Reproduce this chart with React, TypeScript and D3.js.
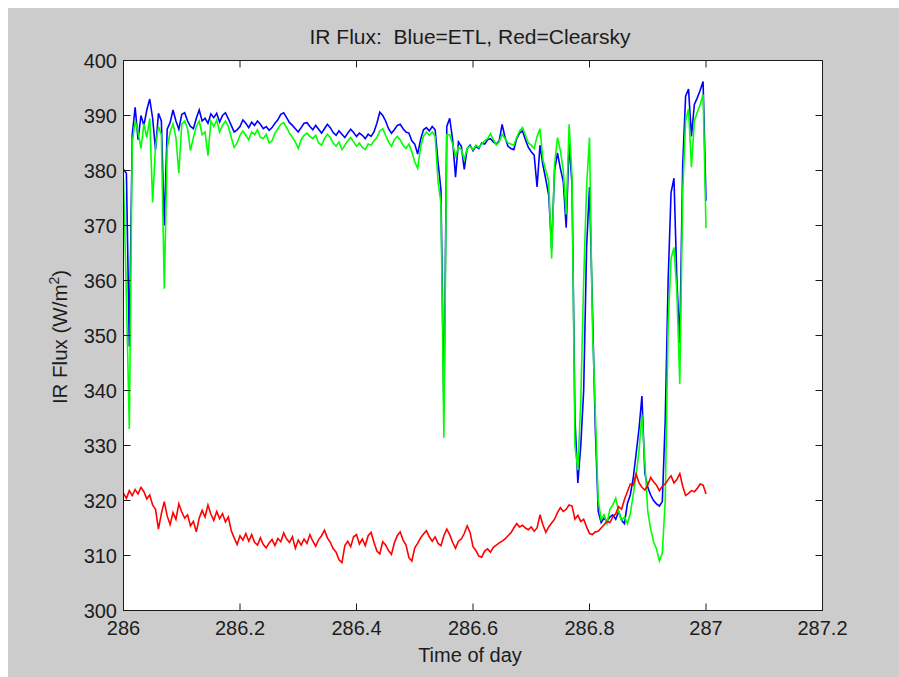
import React, { useEffect } from 'react';
import * as d3 from 'd3';

// Sampling of the series: start time and step (day)
const T0 = 286;
const DT = 0.005;

const xTicks = [286, 286.2, 286.4, 286.6, 286.8, 287, 287.2];
const xTickLabels = ['286', '286.2', '286.4', '286.6', '286.8', '287', '287.2'];
const yTicks = [300, 310, 320, 330, 340, 350, 360, 370, 380, 390, 400];
const yTickLabels = ['300', '310', '320', '330', '340', '350', '360', '370', '380', '390', '400'];

// Blue = ETL
const etlFlux = [
  380.2, 379.5, 348.0, 386.5, 391.5, 385.6, 390.0, 388.2, 391.0, 393.0,
  389.5, 383.8, 390.4, 389.0, 370.0, 387.5, 388.7, 391.0, 389.0, 387.5,
  390.2, 390.5, 389.0, 388.0, 387.6, 389.5, 391.0, 389.0, 389.5, 388.6,
  390.3, 389.6, 390.4, 388.8, 390.0, 390.5, 389.4, 388.2, 387.0, 387.4,
  388.0, 389.2, 388.6, 387.8, 388.8, 388.2, 389.0, 388.4, 387.6, 388.0,
  387.3, 387.8, 388.6, 389.2, 390.2, 390.5, 389.6, 388.7, 388.2, 387.6,
  387.0, 387.8, 388.6, 388.7, 388.0, 387.4, 388.2, 387.5, 386.8, 387.6,
  388.4, 387.8, 386.9, 386.4, 387.2, 386.6, 386.0, 386.8, 387.5, 386.9,
  386.2, 386.8, 386.4, 385.8, 386.6, 386.2, 387.0, 388.6, 390.6, 390.0,
  389.0, 387.6, 386.8, 387.4, 388.2, 388.4, 387.6, 387.0, 386.8, 385.4,
  384.8, 383.0, 385.6, 387.4, 387.8, 387.2, 388.0, 387.4, 381.5, 376.5,
  336.4, 388.0, 389.5, 385.6, 378.8, 385.2, 384.4, 380.2, 384.0, 384.6,
  383.6, 384.4, 384.0, 385.0, 384.8, 385.6, 385.8, 385.2, 384.8, 385.4,
  388.4, 386.0, 384.4, 384.0, 383.8, 385.8, 386.8, 387.2, 385.6, 384.2,
  383.4, 382.8, 377.0, 384.6, 381.0, 378.4, 375.5, 365.8, 380.0, 383.2,
  380.4, 378.0, 369.6, 385.0, 377.5, 335.0, 323.2, 330.0, 340.0, 366.0,
  377.0, 355.0, 333.0, 318.0, 316.0, 316.8, 316.2, 317.0, 317.4, 316.6,
  318.0, 316.4, 315.8, 319.4, 321.0, 324.0, 328.5, 333.0, 339.0, 325.0,
  322.4, 321.0, 320.0, 319.4, 319.0, 319.8, 334.5, 360.0, 376.0, 378.6,
  360.0, 348.6, 381.0, 393.5, 394.8, 386.2, 392.0, 393.2, 394.6, 396.2,
  374.5,
];

// Green
const greenFlux = [
  378.5, 357.0, 333.0, 385.0, 389.0, 387.0, 384.0, 388.5, 386.0, 389.5,
  374.2, 384.5, 388.0, 386.5, 358.5, 384.0, 387.0, 388.5, 386.0, 379.5,
  388.4, 389.0, 387.6, 383.6, 386.0, 388.0, 389.0, 386.5, 387.0, 382.7,
  389.0, 388.0, 389.2, 387.0, 388.2, 389.0, 388.0, 386.0, 384.2, 385.0,
  386.4, 387.2, 386.4, 385.6, 387.0, 386.5, 387.4, 386.0, 385.8, 386.6,
  385.0, 385.4, 386.8, 387.6, 388.4, 388.7, 387.8, 386.8, 386.0, 385.2,
  384.0, 385.6, 386.4, 386.8, 386.2, 385.8, 386.4, 385.0, 384.6, 385.8,
  386.6, 386.0, 385.0, 384.4, 385.2, 383.8, 384.6, 385.4, 386.0, 385.2,
  384.4, 385.0, 384.2, 383.8, 384.8, 384.6, 385.4, 386.0, 387.2, 387.6,
  386.4, 385.2, 384.4, 385.6, 386.2, 385.6, 384.6, 384.0, 384.8, 383.4,
  381.6, 380.4, 384.2, 386.2, 387.0, 386.4, 387.0, 386.2, 378.0, 374.0,
  331.4, 386.5, 386.5, 384.8, 382.6, 384.2, 383.8, 382.0, 384.0, 384.4,
  383.8, 384.6, 384.2, 384.8, 385.4, 385.8, 386.7, 385.6, 384.6, 385.2,
  386.6, 385.8, 385.0, 384.8, 384.6, 386.0, 387.2, 387.8, 386.4, 385.0,
  384.6, 384.0, 386.2, 387.6, 382.0, 380.0, 378.0, 364.0, 381.0, 386.0,
  383.6, 380.0, 372.0, 388.4, 379.0, 330.0, 325.5, 338.0, 360.0, 377.0,
  386.0, 352.0, 336.0, 320.0, 316.5, 317.4, 315.8, 318.4, 319.2, 320.4,
  318.0, 316.4, 317.0, 315.8, 317.6, 321.0, 324.6, 329.0, 335.6, 327.0,
  318.0, 314.8, 312.5, 311.2, 309.0, 310.4, 320.0, 352.0, 364.0, 366.0,
  358.0, 341.2, 376.0, 389.0, 391.2, 380.6, 389.0, 390.6, 392.0, 393.8,
  369.5,
];

// Red = Clearsky
const clearskyFlux = [
  321.3, 320.4, 321.8, 320.9, 322.0, 321.2, 322.4, 321.6, 320.3, 321.0,
  319.2, 318.4, 314.8, 317.6, 319.8, 317.2, 315.6, 317.8, 316.6, 319.4,
  317.9, 316.8, 317.4, 315.4, 316.2, 314.3, 316.8, 318.2, 317.0, 319.2,
  317.5, 316.4, 318.0, 316.7, 317.6, 316.1, 317.0, 314.5, 313.2, 312.0,
  313.6, 312.8, 314.0, 312.6, 313.8, 312.4, 311.9, 313.2, 312.0, 311.4,
  312.3, 312.9, 311.8, 313.1, 312.5, 314.1, 313.0, 312.4, 313.4, 311.3,
  312.8, 311.9, 313.0, 312.2, 313.8, 312.6, 311.7, 312.9, 313.6, 314.6,
  313.2, 312.4, 311.2, 310.6, 309.2, 308.7, 311.8, 312.6, 311.6, 313.4,
  313.8, 312.1, 313.0, 311.8, 313.6, 314.2, 312.4, 310.8, 310.3, 312.5,
  311.9, 310.9, 310.2, 312.3, 313.6, 314.3, 312.8, 311.9, 309.6, 309.0,
  311.4, 312.2, 313.2, 313.9, 314.5, 313.4, 312.6, 313.4, 312.2, 311.8,
  313.6, 314.8, 313.8, 312.4, 311.3, 312.6, 313.0, 314.0, 315.4, 314.2,
  311.6, 310.9, 309.9, 309.7, 310.8, 311.2, 310.6, 311.5, 311.9, 312.3,
  312.6, 313.0, 313.6, 314.1, 315.0, 315.8, 315.2, 315.5, 315.0, 314.7,
  315.2, 314.4, 315.0, 317.4, 315.6, 314.2, 315.2, 315.9, 316.6, 317.8,
  318.7, 318.0, 318.4, 319.2, 319.0, 316.6, 317.3, 316.2, 316.6, 315.2,
  314.0, 313.8, 314.3, 314.4, 315.0, 315.6, 316.2, 316.0, 317.0, 317.6,
  318.9, 318.4, 320.2, 321.6, 323.0, 322.8, 324.8, 323.2, 322.4, 321.9,
  322.8, 324.2, 323.4, 322.8, 321.8, 322.6, 323.0, 323.8, 324.5, 323.2,
  323.8, 324.9, 322.6, 320.9, 321.3, 321.8, 321.6, 322.2, 323.0, 322.8,
  321.2,
];

const FONT = '"Liberation Sans", Arial, Helvetica, sans-serif';
const INK = '#1c1c1c';

export default function App() {
  useEffect(() => {
    document.documentElement.style.overflow = 'hidden';
  }, []);

  const W = 891;
  const H = 669;
  const left = 123.5, right = 822.5, top = 60.5, bottom = 610.5;
  const x = d3.scaleLinear().domain([286, 287.2]).range([left, right]);
  const y = d3.scaleLinear().domain([300, 400]).range([bottom, top]);
  const mk = (vals: number[]) =>
    d3.line<number>()
      .x((_, i) => x(T0 + i * DT))
      .y((d) => y(d))(vals) || '';
  const tl = 7;

  return (
    <div style={{ position: 'absolute', left: 8, top: 8 }}>
      <svg width={W} height={H} style={{ display: 'block' }}>
        <g transform="translate(-8,-8)">
          <rect x={8} y={8} width={W} height={H} fill="#cccccc" />
          <rect x={left} y={top} width={right - left} height={bottom - top} fill="#ffffff" />
          <defs>
            <clipPath id="plotclip">
              <rect x={left} y={top} width={right - left} height={bottom - top} />
            </clipPath>
          </defs>
          <g clipPath="url(#plotclip)" fill="none" strokeWidth={1.6} strokeLinejoin="miter">
            <path d={mk(etlFlux)} stroke="#0000ff" />
            <path d={mk(greenFlux)} stroke="#00ff00" />
            <path d={mk(clearskyFlux)} stroke="#ff0000" />
          </g>
          <rect x={left} y={top} width={right - left} height={bottom - top} fill="none" stroke={INK} strokeWidth={1} />
          {xTicks.map((t) => (
            <g key={'xt' + t}>
              <line x1={x(t)} x2={x(t)} y1={bottom} y2={bottom - tl} stroke={INK} />
              <line x1={x(t)} x2={x(t)} y1={top} y2={top + tl} stroke={INK} />
            </g>
          ))}
          {yTicks.map((t) => (
            <g key={'yt' + t}>
              <line x1={left} x2={left + tl} y1={y(t)} y2={y(t)} stroke={INK} />
              <line x1={right} x2={right - tl} y1={y(t)} y2={y(t)} stroke={INK} />
            </g>
          ))}
          <g fontFamily={FONT} fontSize={20} fill={INK}>
            {xTicks.map((t, i) => (
              <text key={'xl' + t} x={x(t)} y={635} textAnchor="middle">{xTickLabels[i]}</text>
            ))}
            {yTicks.map((t, i) => (
              <text key={'yl' + t} x={117} y={y(t)} dy="0.36em" textAnchor="end">{yTickLabels[i]}</text>
            ))}
            <text x={470} y={662} textAnchor="middle">Time of day</text>
            <text x={470} y={44} textAnchor="middle" fontSize={21}>IR Flux:{'\u00a0\u00a0'}Blue=ETL, Red=Clearsky</text>
            <text transform="translate(67,337) rotate(-90)" textAnchor="middle" fontSize={20.5}>
              IR Flux (W/m<tspan fontSize={14} dy={-8}>2</tspan><tspan dy={8}>)</tspan>
            </text>
          </g>
        </g>
      </svg>
    </div>
  );
}
